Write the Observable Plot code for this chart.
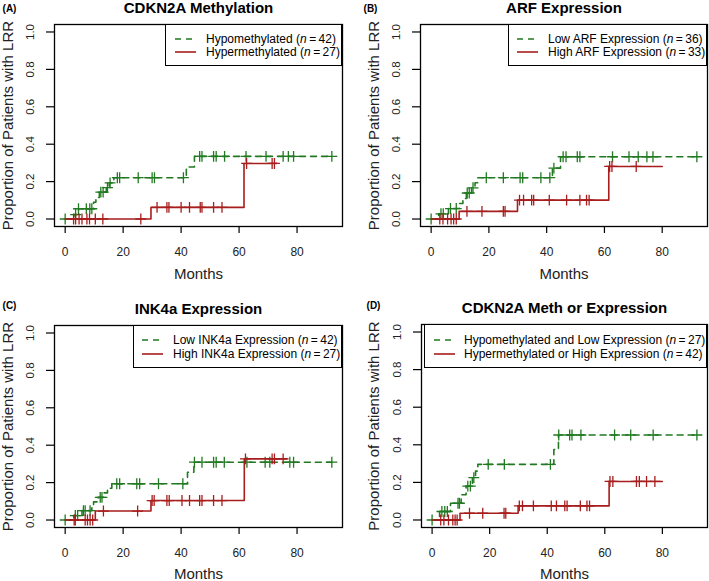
<!DOCTYPE html>
<html><head><meta charset="utf-8">
<script src="https://cdn.jsdelivr.net/npm/d3@7"></script>
<script src="https://cdn.jsdelivr.net/npm/@observablehq/plot@0.6"></script>
<style>
body{margin:0;background:#fff;}
#chart{position:relative;width:709px;height:581px;overflow:hidden;font-family:"Liberation Sans",Arial,sans-serif;background:#fff;color:#000;}
.panel{position:absolute;}
.legend{position:absolute;background:#fff;border:1.3px solid #000;box-sizing:border-box;font-size:12px;color:#000;}
.legend .txt{position:absolute;white-space:nowrap;line-height:14px;}
.legend svg{position:absolute;}
</style></head>
<body><div id="chart"></div>
<script>
// ---------- DATA ----------
const xTicks = [0, 20, 40, 60, 80];
const yTicks = [0, 0.2, 0.4, 0.6, 0.8, 1.0];
const xLabel = "Months";
const yLabel = "Proportion of Patients with LRR";

// Panel A: CDKN2A Methylation
const aTitle = "CDKN2A Methylation";
const aNames = ["Hypomethylated", "Hypermethylated"];
const aN = [42, 27];
const aLowTime = [0, 3, 4.6, 9.8, 10.6, 11.8, 14.2, 15.2, 16.8, 41.8, 44.6, 92];
const aLowProb = [0, 0.024, 0.055, 0.09, 0.115, 0.144, 0.168, 0.193, 0.221, 0.278, 0.335, 0.335];
const aLowCens = [0, 3.6, 4.6, 7.3, 8.5, 9.2, 12.3, 13.1, 14.6, 15.5, 18, 18.8, 25.2, 30, 30.8, 40.8, 46.4, 47.2, 51.2, 52.1, 55, 62.4, 69.3, 75.2, 77, 78.8, 92];
const aHighTime = [0, 29.6, 61.7, 73];
const aHighProb = [0, 0.062, 0.297, 0.297];
const aHighCens = [2.9, 3.6, 4.8, 5.8, 7.5, 8.4, 10.4, 13, 26.1, 31.7, 35.1, 35.8, 40, 42.9, 46.6, 47.2, 51.2, 54.1, 62.6, 71.4, 72.2];

// Panel B: ARF Expression
const bTitle = "ARF Expression";
const bNames = ["Low ARF Expression", "High ARF Expression"];
const bN = [36, 33];
const bLowTime = [0, 2.6, 6, 9.8, 11, 12.2, 14, 15.2, 16.1, 42, 44.8, 92];
const bLowProb = [0, 0.028, 0.056, 0.083, 0.11, 0.139, 0.167, 0.194, 0.221, 0.272, 0.333, 0.333];
const bLowCens = [0, 3.4, 4.2, 6.7, 8.7, 12.5, 13.2, 14.5, 19.1, 25, 30.8, 31.7, 38, 41.1, 42.5, 45.7, 46.7, 50.6, 51.5, 62.8, 68.5, 71.7, 74.7, 76.8, 92];
const bHighTime = [0, 9.7, 29.9, 61.5, 80];
const bHighProb = [0, 0.041, 0.101, 0.281, 0.281];
const bHighCens = [3, 4.1, 5.7, 6.9, 7.8, 8.7, 12.4, 17.6, 25, 25.6, 30.6, 32, 34.8, 35.5, 40.9, 46.9, 51.5, 53.8, 54.7, 61.8, 62.6, 71];

// Panel C: INK4a Expression
const cTitle = "INK4a Expression";
const cNames = ["Low INK4a Expression", "High INK4a Expression"];
const cN = [42, 27];
const cLowTime = [0, 3, 5.8, 9.2, 9.8, 11.4, 13.2, 14.6, 16.1, 42.2, 44.4, 92];
const cLowProb = [0, 0.024, 0.05, 0.073, 0.097, 0.121, 0.145, 0.17, 0.194, 0.255, 0.309, 0.309];
const cLowCens = [0, 3.5, 4.3, 6.3, 6.9, 8.6, 12.1, 12.7, 17.8, 18.8, 24.7, 25.7, 32.2, 40.6, 44.6, 47.2, 51.2, 52.1, 54.9, 62.7, 69, 70.6, 77.5, 78.8, 92];
const cHighTime = [0, 10.4, 29.6, 61.8, 76.5];
const cHighProb = [0, 0.048, 0.104, 0.327, 0.327];
const cHighCens = [3.1, 3.5, 6.9, 7.7, 8.6, 9.5, 13.2, 25, 30, 30.7, 35.1, 35.9, 40.3, 42.9, 46.4, 47.2, 51.2, 54.1, 62.2, 71.4, 72.2, 75.2];

// Panel D: CDKN2A Meth or Expression
const dTitle = "CDKN2A Meth or Expression";
const dNames = ["Hypomethylated and Low Expression", "Hypermethylated or High Expression"];
const dN = [27, 42];
const dLowTime = [0, 2.6, 6.4, 10.1, 11.8, 14, 15.1, 15.9, 42.3, 43.9, 92];
const dLowProb = [0, 0.045, 0.089, 0.134, 0.18, 0.225, 0.26, 0.296, 0.375, 0.452, 0.452];
const dLowCens = [0, 3.4, 4.4, 5.3, 9, 9.5, 12.4, 13.3, 14.5, 19.5, 25.1, 41.1, 44, 47.8, 48.6, 51.7, 63.4, 69, 76.8, 92];
const dHighTime = [0, 9.7, 29.9, 61.5, 80];
const dHighProb = [0, 0.036, 0.075, 0.205, 0.205];
const dHighCens = [3, 4.1, 5.7, 7.2, 8, 8.7, 13, 17.6, 25, 25.6, 30.3, 31.4, 35.2, 41.4, 43.2, 46.1, 46.9, 51.5, 53.8, 54.7, 61.8, 62.8, 71, 72, 74.5, 77.4];

// ---------- STYLE ----------
const GREEN = "#217a21";
const RED = "#a81d1d";
const DASH = "6,5";
const FONT = "'Liberation Sans', Arial, sans-serif";

function level(times, probs, t) {
  let v = probs[0];
  for (let i = 0; i < times.length; i++) if (times[i] <= t) v = probs[i];
  return v;
}
function pts(times, probs) { return times.map((t, i) => ({t, p: probs[i]})); }
function cens(times, probs, c) { return c.map(t => ({t, p: level(times, probs, t)})); }

const panels = [
  {letter: "(A)", title: aTitle, names: aNames, n: aN, low: [aLowTime, aLowProb, aLowCens], high: [aHighTime, aHighProb, aHighCens],
   left: 0, top: 0, width: 354, height: 290, m: [24, 12, 64, 54], letterPos: [-45, -16], titleDy: -16.3, ylabDx: -46, xlabDy: 48,
   legend: {left: 165, top: 24, width: 177, height: 42, sx: 10, tx: 41, rows: [15, 28]}},
  {letter: "(B)", title: bTitle, names: bNames, n: bN, low: [bLowTime, bLowProb, bLowCens], high: [bHighTime, bHighProb, bHighCens],
   left: 354, top: 0, width: 355, height: 290, m: [24, 2, 64, 66], letterPos: [-50, -16], titleDy: -16.3, ylabDx: -46, xlabDy: 48,
   legend: {left: 508, top: 24, width: 199, height: 42, sx: 9, tx: 40, rows: [15, 28]}},
  {letter: "(C)", title: cTitle, names: cNames, n: cN, low: [cLowTime, cLowProb, cLowCens], high: [cHighTime, cHighProb, cHighCens],
   left: 0, top: 290, width: 354, height: 291, m: [35, 12, 54, 54], letterPos: [-45, -20], titleDy: -16, ylabDx: -46, xlabDy: 46.5,
   legend: {left: 133, top: 325, width: 209, height: 43, sx: 9, tx: 40, rows: [15, 29]}},
  {letter: "(D)", title: dTitle, names: dNames, n: dN, low: [dLowTime, dLowProb, dLowCens], high: [dHighTime, dHighProb, dHighCens],
   left: 354, top: 290, width: 355, height: 291, m: [34, 2, 54, 67], letterPos: [-48, -19], titleDy: -16, ylabDx: -47, xlabDy: 46.5,
   legend: {left: 424, top: 324, width: 283, height: 44, sx: 10, tx: 40, rows: [16, 30]}}
];

const chart = document.getElementById("chart");
const C = {textAnchor: "middle", lineAnchor: "middle"};

for (const P of panels) {
  const [lt, lp, lc] = P.low;
  const [ht, hp, hc] = P.high;
  const svg = Plot.plot({
    width: P.width, height: P.height,
    marginTop: P.m[0], marginRight: P.m[1], marginBottom: P.m[2], marginLeft: P.m[3],
    style: {fontFamily: FONT, background: "transparent", overflow: "visible", color: "#000"},
    x: {domain: [-3.68, 95.68]},
    y: {domain: [-0.04, 1.04]},
    marks: [
      Plot.line(pts(lt, lp), {x: "t", y: "p", curve: "step-after", stroke: GREEN, strokeWidth: 1.6, strokeDasharray: DASH}),
      Plot.dot(cens(lt, lp, lc), {x: "t", y: "p", symbol: "plus", r: 3.6, stroke: GREEN, strokeWidth: 1.3}),
      Plot.line(pts(ht, hp), {x: "t", y: "p", curve: "step-after", stroke: RED, strokeWidth: 1.6}),
      Plot.dot(cens(ht, hp, hc), {x: "t", y: "p", symbol: "plus", r: 3.6, stroke: RED, strokeWidth: 1.3}),
      Plot.frame({stroke: "#000", strokeWidth: 1.3}),
      Plot.axisX({ticks: xTicks, tickSize: 7, fill: "none", label: null, strokeWidth: 1.2}),
      Plot.axisY({ticks: yTicks, tickSize: 8, fill: "none", label: null, strokeWidth: 1.2}),
      Plot.text(xTicks, {...C, x: d => d, frameAnchor: "bottom", dy: 26, text: d => String(d), fontSize: 12, fill: "#222"}),
      Plot.text(yTicks, {...C, y: d => d, frameAnchor: "left", dx: -24.5, rotate: -90, text: d => d.toFixed(1), fontSize: 11.5, fill: "#222"}),
      Plot.text([xLabel], {...C, frameAnchor: "bottom", dy: P.xlabDy, text: d => d, fontSize: 15, fill: "#222"}),
      Plot.text([yLabel], {...C, frameAnchor: "left", dx: P.ylabDx, rotate: -90, text: d => d, fontSize: 15, fill: "#222"}),
      Plot.text([P.title], {...C, frameAnchor: "top", dy: P.titleDy, text: d => d, fontSize: 15, fontWeight: "bold"}),
      Plot.text([P.letter], {...C, frameAnchor: "top-left", dx: P.letterPos[0], dy: P.letterPos[1], text: d => d, fontSize: 10, fontWeight: "bold"})
    ]
  });
  const holder = document.createElement("div");
  holder.className = "panel";
  holder.style.left = P.left + "px";
  holder.style.top = P.top + "px";
  holder.appendChild(svg);
  chart.appendChild(holder);

  // legend
  const L = P.legend;
  const box = document.createElement("div");
  box.className = "legend";
  box.style.left = L.left + "px"; box.style.top = L.top + "px";
  box.style.width = L.width + "px"; box.style.height = L.height + "px";
  const colors = [GREEN, RED];
  const dashes = [DASH, null];
  P.names.forEach((name, i) => {
    const y = L.rows[i];
    const s = document.createElementNS("http://www.w3.org/2000/svg", "svg");
    s.setAttribute("width", 22); s.setAttribute("height", 6);
    s.style.left = (L.sx - 1) + "px"; s.style.top = (y - 3 - 1) + "px";
    const ln = document.createElementNS("http://www.w3.org/2000/svg", "line");
    ln.setAttribute("x1", 0); ln.setAttribute("x2", 21); ln.setAttribute("y1", 3); ln.setAttribute("y2", 3);
    ln.setAttribute("stroke", colors[i]); ln.setAttribute("stroke-width", 1.6);
    if (dashes[i]) ln.setAttribute("stroke-dasharray", dashes[i]);
    s.appendChild(ln);
    box.appendChild(s);
    const t = document.createElement("div");
    t.className = "txt";
    t.style.left = (L.tx - 1) + "px"; t.style.top = (y - 7 - 1) + "px";
    t.innerHTML = name + " (<i>n</i>\u2009=\u2009" + P.n[i] + ")";
    box.appendChild(t);
  });
  chart.appendChild(box);
}
</script></body></html>
